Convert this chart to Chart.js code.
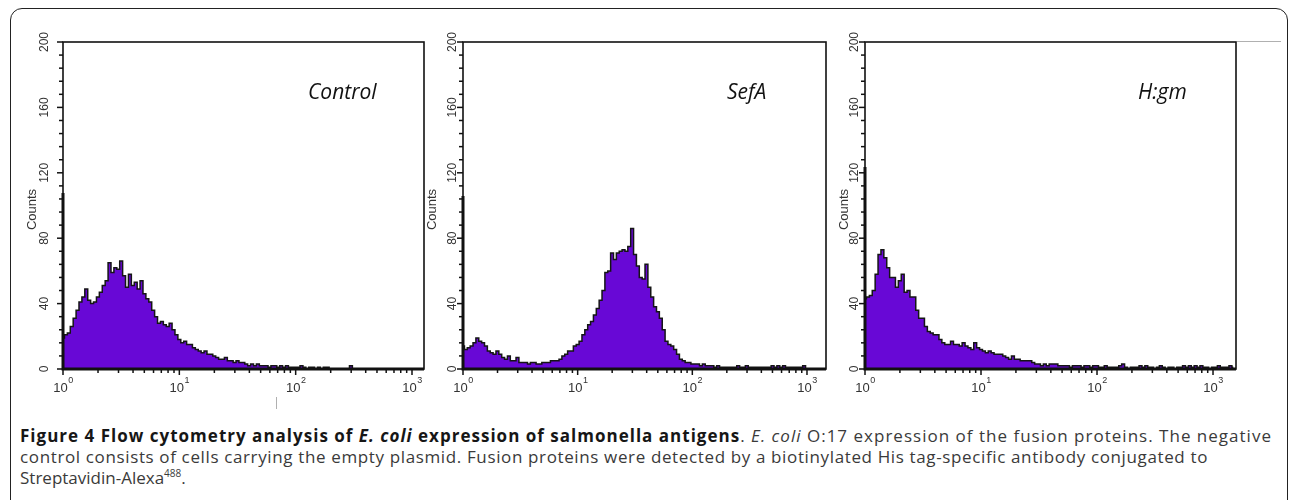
<!DOCTYPE html>
<html>
<head>
<meta charset="utf-8">
<script src="https://cdn.jsdelivr.net/npm/chart.js@4.4.0/dist/chart.umd.min.js"></script>
<style>
  body { margin: 0; background: #fff; }
  #page { position: relative; width: 1290px; height: 500px; overflow: hidden; background: #fff; }
  #frame { position: absolute; left: 10px; top: 8px; width: 1278px; height: 540px; border: 1.5px solid #222; border-radius: 12px; box-sizing: border-box; }
  canvas.panel { position: absolute; }
  .tag { position: absolute; top: 81px; font-family: "Open Sans", sans-serif; font-style: italic; font-size: 21px; line-height: 21px; color: #111; white-space: nowrap; }
  #caption { position: absolute; left: 20px; top: 425px; font-family: "Open Sans", sans-serif; font-size: 17px; line-height: 21px; color: #3a3a3a; }
  #caption div { white-space: nowrap; }
  #caption b { color: #161616; }
  #caption sup { font-size: 10px; line-height: 0; }
  .mark { position: absolute; background: #b0b0b0; }
</style>
</head>
<body>
<div id="page">
  <div id="frame"></div>
  <canvas id="c0" class="panel"></canvas>
  <canvas id="c1" class="panel"></canvas>
  <canvas id="c2" class="panel"></canvas>
  <span class="tag" style="left:308px">Control</span>
  <span class="tag" style="left:727px">SefA</span>
  <span class="tag" style="left:1138px">H:gm</span>
  <div class="mark" style="left:1237px; top:41px; width:44px; height:1px"></div>
  <div class="mark" style="left:276px; top:397px; width:1px; height:12px"></div>
  <div id="caption">
    <div><span data-width="1252"><b>Figure 4 Flow cytometry analysis of <i>E. coli</i> expression of salmonella antigens</b>. <i>E. coli</i> O:17 expression of the fusion proteins. The negative</span></div>
    <div><span data-width="1188">control consists of cells carrying the empty plasmid. Fusion proteins were detected by a biotinylated His tag-specific antibody conjugated to</span></div>
    <div><span>Streptavidin-Alexa<sup>488</sup>.</span></div>
  </div>
</div>
<script>
// counts per log channel, 40 channels per decade starting at 10^0
let controlCounts = [19,21,22,26,31,36,41,44,49,42, 40,41,44,47,51,54,65,59,62,61,
  66,57,50,58,51,53,49,54,46,43, 41,36,32,28,29,27,26,28,24,21,
  18,16,17,15,15,13,12,11,10,11, 9,9,8,7,6,6,7,5,5,4,
  5,4,4,3,2,3,2,3,2,2, 2,1,2,2,1,2,1,2,1,1,
  1,1,2,1,0,1,1,0,1,0, 1,1,0,0,0,0,0,0,0,2,
  0,0,0,0,0,0,0,0,0,0, 0,0,0,0,0,0,0,0,0,0, 0,0,0,0,0];
let sefaCounts = [14,12,13,14,16,19,17,16,14,11, 10,9,11,9,7,6,8,5,5,7,
  4,4,4,3,4,4,3,3,4,4, 4,5,5,5,6,8,9,11,11,14,
  15,17,21,24,27,29,33,37,42,48, 59,60,71,67,71,72,73,72,75,86,
  70,63,56,55,64,50,44,38,35,31, 24,17,15,14,12,9,6,5,4,4,
  3,3,3,2,3,2,2,2,1,2, 1,1,1,1,1,1,2,1,1,2,
  1,1,1,1,1,1,1,1,2,1, 2,1,2,1,1,1,1,1,1,2, 0,0,0,0,0,0,0];
let hgmCounts = [43,44,45,48,58,70,73,68,62,56, 56,50,54,58,47,48,44,44,36,31,
  31,26,23,22,21,21,18,16,15,15, 17,15,15,14,16,14,13,12,16,13,
  12,11,10,11,10,9,9,9,8,7, 6,8,6,6,5,5,5,5,4,3,
  3,2,3,2,3,3,3,2,2,2, 2,1,2,2,2,1,2,2,1,2,
  2,1,1,2,1,1,1,1,2,3, 1,0,1,1,1,2,1,2,1,1,
  0,1,2,1,0,1,1,0,1,1, 2,1,2,1,2,1,2,1,1,0,
  1,1,2,1,1,1,2,1];
let panelCounts = [controlCounts, sefaCounts, hgmCounts];
let yTickLabels = [0, 40, 80, 120, 160, 200];
let xDecades = [0, 1, 2, 3];
let xMax = [1268, 1465, 1578];

let purple = 'rgb(104, 8, 214)';
// plot area boxes on the page
let boxes = [
  { left: 63, right: 424, labelGap: 18, countsGap: 31, thickFrom: 193 },
  { left: 463, right: 826, labelGap: 10, countsGap: 31, thickFrom: 196 },
  { left: 865, right: 1236, labelGap: 10, countsGap: 21, thickFrom: 167 }
];
let areaTop = 42, areaBottom = 369;
let canvasTop = 20, canvasHeight = 385;
let tickFont = '"Liberation Sans", Arial, sans-serif';

let axesPlugin = {
  id: 'axes',
  afterDatasetsDraw(chart) {
    let ctx = chart.ctx;
    let a = chart.chartArea;
    let xs = chart.scales.x, ys = chart.scales.y;
    let box = chart.options.plugins.axes;
    ctx.save();
    ctx.strokeStyle = '#111';
    ctx.lineWidth = 1.6;
    ctx.strokeRect(a.left, a.top, a.right - a.left, a.bottom - a.top);
    // heavier lower part of the left axis and the baseline
    ctx.lineWidth = 3;
    ctx.beginPath();
    ctx.moveTo(a.left, box.thickFrom - canvasTop);
    ctx.lineTo(a.left, a.bottom);
    ctx.lineTo(a.right, a.bottom);
    ctx.stroke();

    // y ticks every 8 counts
    ctx.lineWidth = 1.5;
    for (let v = 0; v <= 200; v += 8) {
      let py = ys.getPixelForValue(v);
      let len = v % 40 === 0 ? 6 : 4;
      ctx.beginPath();
      ctx.moveTo(a.left - len, py);
      ctx.lineTo(a.left, py);
      ctx.stroke();
    }
    ctx.fillStyle = '#333';
    ctx.font = '12px ' + tickFont;
    ctx.textAlign = 'center';
    ctx.textBaseline = 'middle';
    yTickLabels.forEach(v => {
      let py = ys.getPixelForValue(v);
      ctx.save();
      ctx.translate(a.left - box.labelGap, py);
      ctx.rotate(-Math.PI / 2);
      ctx.fillText(String(v), 0, 0);
      ctx.restore();
    });
    ctx.save();
    ctx.font = '13px ' + tickFont;
    ctx.translate(a.left - box.countsGap, (a.top + a.bottom) / 2 + 4);
    ctx.rotate(-Math.PI / 2);
    ctx.fillText('Counts', 0, 0);
    ctx.restore();

    // x ticks at 1..9 x 10^d
    ctx.strokeStyle = '#111';
    for (let d = 0; d <= 3; d++) {
      for (let k = 1; k <= 9; k++) {
        let val = k * Math.pow(10, d);
        if (val > xs.max) break;
        let px = xs.getPixelForValue(val);
        ctx.beginPath();
        ctx.moveTo(px, a.bottom);
        ctx.lineTo(px, a.bottom + (k === 1 ? 6 : 4));
        ctx.stroke();
      }
    }
    ctx.textAlign = 'left';
    ctx.textBaseline = 'alphabetic';
    xDecades.forEach(d => {
      let px = xs.getPixelForValue(Math.pow(10, d));
      ctx.font = '13px ' + tickFont;
      let w1 = ctx.measureText('10').width;
      ctx.font = '9px ' + tickFont;
      let w2 = ctx.measureText(String(d)).width;
      let start = px - (w1 + w2) / 2;
      ctx.font = '13px ' + tickFont;
      ctx.fillText('10', start, a.bottom + 23);
      ctx.font = '9px ' + tickFont;
      ctx.fillText(String(d), start + w1 + 0.5, a.bottom + 14);
    });
    ctx.restore();
  }
};

boxes.forEach((box, i) => {
  let canvas = document.getElementById('c' + i);
  let padLeft = 60, padRight = 10;
  canvas.width = box.right - box.left + padLeft + padRight;
  canvas.height = canvasHeight;
  canvas.style.left = (box.left - padLeft) + 'px';
  canvas.style.top = canvasTop + 'px';
  let points = panelCounts[i].map((c, ch) => ({ x: Math.pow(10, ch / 40), y: c }));
  new Chart(canvas.getContext('2d'), {
    type: 'line',
    data: {
      datasets: [{
        data: points,
        borderColor: '#151515',
        borderWidth: 1.5,
        backgroundColor: purple,
        fill: 'origin',
        stepped: 'middle',
        pointRadius: 0
      }]
    },
    options: {
      responsive: false,
      animation: false,
      layout: { padding: { left: padLeft, right: padRight, top: areaTop - canvasTop, bottom: canvasHeight - (areaBottom - canvasTop) } },
      plugins: { legend: { display: false }, tooltip: { enabled: false }, axes: box },
      scales: {
        x: { type: 'logarithmic', min: 1, max: xMax[i], display: false },
        y: { min: 0, max: 200, display: false }
      }
    },
    plugins: [axesPlugin]
  });
});

// stretch the first two caption lines to the widths in the figure
document.querySelectorAll('#caption span[data-width]').forEach(el => {
  let target = +el.dataset.width;
  let natural = el.getBoundingClientRect().width;
  let chars = el.textContent.length;
  el.style.letterSpacing = ((target - natural) / chars) + 'px';
});
</script>
</body>
</html>
